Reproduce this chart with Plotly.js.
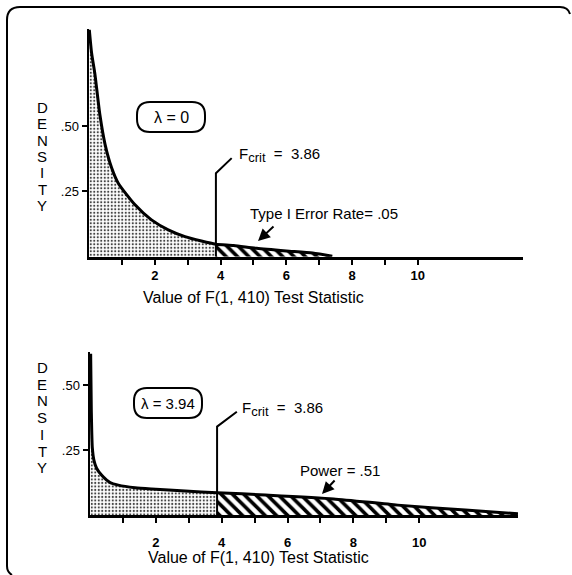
<!DOCTYPE html>
<html><head><meta charset="utf-8">
<script src="https://cdn.plot.ly/plotly-3.0.1.min.js"></script>
<style>html,body{margin:0;padding:0;background:#fff}</style>
</head><body><div id="chart" style="width:572px;height:575px"></div>
<script>
// ---- data ----
const fCrit = 3.86;
const topLambda = "0";
const botLambda = "3.94";
const topF = [0.01,0.08,0.18,0.33,0.49,0.69,0.89,1.40,1.90,2.41,2.92,3.42,3.86,4.40,5.10,6.00,6.80,7.40];
const topDensity = [0.87,0.78,0.70,0.545,0.43,0.34,0.282,0.199,0.141,0.103,0.077,0.060,0.048,0.043,0.032,0.022,0.014,0.002];
const botF = [0.02,0.04,0.07,0.12,0.20,0.35,0.61,0.86,1.37,1.87,2.89,3.86,5.33,7.40,9.35,11.40,13.00];
const botDensity = [0.62,0.40,0.26,0.21,0.18,0.154,0.125,0.115,0.105,0.100,0.092,0.086,0.077,0.062,0.038,0.019,0.005];
const xTickVals = [1,2,3,4,5,6,7,8,9,10];
const xTickText = ["","2","","4","","6","","8","","10"];
const yTickVals = [0.25,0.50];
const yTickText = [".25",".50"];
const xTitle = "Value of F(1, 410) Test Statistic";
const yLetters = ["D","E","N","S","I","T","Y"];
const typeILabel = "Type I Error Rate= .05";
const powerLabel = "Power = .51";

// ---- helpers ----
const W = 572, H = 575;
const X = p => p / W, Y = p => 1 - p / H;
const FONT = '"Liberation Sans", Arial, sans-serif';

function split(xs, ys, cut, below) {
  const ox = [], oy = [];
  xs.forEach((x, i) => { if (below ? x <= cut : x >= cut) { ox.push(x); oy.push(ys[i]); } });
  return {x: ox, y: oy};
}
function rrect(x0, y0, x1, y1, r) {
  return `M ${X(x0+r)},${Y(y0)} L ${X(x1-r)},${Y(y0)} Q ${X(x1)},${Y(y0)} ${X(x1)},${Y(y0+r)} ` +
    `L ${X(x1)},${Y(y1-r)} Q ${X(x1)},${Y(y1)} ${X(x1-r)},${Y(y1)} L ${X(x0+r)},${Y(y1)} ` +
    `Q ${X(x0)},${Y(y1)} ${X(x0)},${Y(y1-r)} L ${X(x0)},${Y(y0+r)} Q ${X(x0)},${Y(y0)} ${X(x0+r)},${Y(y0)} Z`;
}

const dotPattern = {shape: '.', size: 3.5, solidity: 0.3, fgcolor: '#444', bgcolor: '#fff'};
const hatchPattern = {shape: '\\', size: 8, solidity: 0.45, fgcolor: '#000', bgcolor: '#fff'};

function panel(xs, ys, xa, ya) {
  const lo = split(xs, ys, fCrit, true), hi = split(xs, ys, fCrit, false);
  const common = {type: 'scatter', mode: 'lines', xaxis: xa, yaxis: ya, hoverinfo: 'skip', showlegend: false};
  return [
    Object.assign({}, common, {x: lo.x, y: lo.y, fill: 'tozeroy', fillpattern: dotPattern, fillcolor: 'rgba(0,0,0,0)', line: {width: 0, shape: 'spline', smoothing: 0.6}}),
    Object.assign({}, common, {x: hi.x, y: hi.y, fill: 'tozeroy', fillpattern: hatchPattern, fillcolor: 'rgba(0,0,0,0)', line: {width: 0, shape: 'spline', smoothing: 0.6}}),
    Object.assign({}, common, {x: xs, y: ys, line: {color: '#000', width: 3, shape: 'spline', smoothing: 0.6}})
  ];
}

const data = [].concat(panel(topF, topDensity, 'x', 'y'), panel(botF, botDensity, 'x2', 'y2'));

const xaxisBase = {
  tickvals: xTickVals, ticktext: xTickText, ticks: 'outside', ticklen: 5, tickwidth: 2, tickcolor: '#000',
  showline: true, linewidth: 3, linecolor: '#000', showgrid: false, zeroline: false,
  tickfont: {family: FONT, size: 13, color: '#000', weight: 'bold'}
};
const yaxisBase = {
  tickvals: yTickVals, ticktext: yTickText, ticks: 'outside', ticklen: 5, tickwidth: 2, tickcolor: '#000',
  showline: true, linewidth: 2.5, linecolor: '#000', showgrid: false, zeroline: false,
  tickfont: {family: FONT, size: 13, color: '#000'}
};

const annotations = [];
function txt(t, x, y, size, anchor) {
  annotations.push({text: t, x: X(x), y: Y(y), xref: 'paper', yref: 'paper', showarrow: false,
    xanchor: anchor || 'center', yanchor: 'middle', font: {family: FONT, size: size, color: '#000'}});
}
yLetters.forEach((l, i) => { txt(l, 42, 107.5 + i * 16.3, 15); txt(l, 42, 367.5 + i * 16.7, 15); });
txt("λ = " + topLambda, 171, 117, 16);
txt("λ = " + botLambda, 168, 403, 15);
const fcritText = 'F<sub><span style="font-size:13px">crit</span></sub>  =  ' + fCrit.toFixed(2);
txt(fcritText, 237, 155, 15, 'left');
txt(fcritText, 240, 409, 15, 'left');
txt(typeILabel, 248, 213, 15, 'left');
txt(powerLabel, 298, 470, 15, 'left');
txt(xTitle, 253, 297, 16);
txt(xTitle, 258, 557, 16);
function arrow(hx, hy, tx, ty) {
  annotations.push({text: '', x: X(hx), y: Y(hy), xref: 'paper', yref: 'paper', showarrow: true,
    ax: tx - hx, ay: ty - hy, arrowhead: 2, arrowsize: 1.2, arrowwidth: 2, arrowcolor: '#000'});
}
arrow(258, 241, 275, 225);
arrow(322, 494, 336, 479);

const shapes = [
  {type: 'path', xref: 'paper', yref: 'paper', path: rrect(137, 102, 205, 132, 13), line: {color: '#000', width: 2}},
  {type: 'path', xref: 'paper', yref: 'paper', path: rrect(134, 388, 202, 418, 13), line: {color: '#000', width: 2}},
  // F crit leader lines
  {type: 'path', xref: 'x', yref: 'y', path: `M ${fCrit},0 L ${fCrit},0.32 L 4.34,0.378`, line: {color: '#000', width: 2}},
  {type: 'path', xref: 'x2', yref: 'y2', path: `M ${fCrit},0 L ${fCrit},0.34 L 4.46,0.397`, line: {color: '#000', width: 2}},
  // outer frame (top and left edges visible)
  {type: 'path', xref: 'paper', yref: 'paper',
    path: `M ${X(570)},${Y(14)} Q ${X(568)},${Y(7)} ${X(560)},${Y(7)} L ${X(20)},${Y(7)} Q ${X(7)},${Y(7)} ${X(7)},${Y(20)} L ${X(7)},${Y(566)} Q ${X(7)},${Y(572)} ${X(12)},${Y(575)}`,
    line: {color: '#000', width: 2}}
];

const layout = {
  width: W, height: H, margin: {l: 0, r: 0, t: 0, b: 0},
  paper_bgcolor: '#fff', plot_bgcolor: '#fff', showlegend: false,
  xaxis: Object.assign({}, xaxisBase, {domain: [X(89), X(523)], range: [0, 13.2], anchor: 'y'}),
  yaxis: Object.assign({}, yaxisBase, {domain: [Y(256.7), Y(29)], range: [0, 0.873], anchor: 'x'}),
  xaxis2: Object.assign({}, xaxisBase, {domain: [X(90), X(518)], range: [0, 13.0], anchor: 'y2', ticklabelstandoff: 8}),
  yaxis2: Object.assign({}, yaxisBase, {domain: [Y(515), Y(351.7)], range: [0, 0.628], anchor: 'x2'}),
  annotations: annotations, shapes: shapes
};
Plotly.newPlot('chart', data, layout, {staticPlot: true, displayModeBar: false});
</script></body></html>
